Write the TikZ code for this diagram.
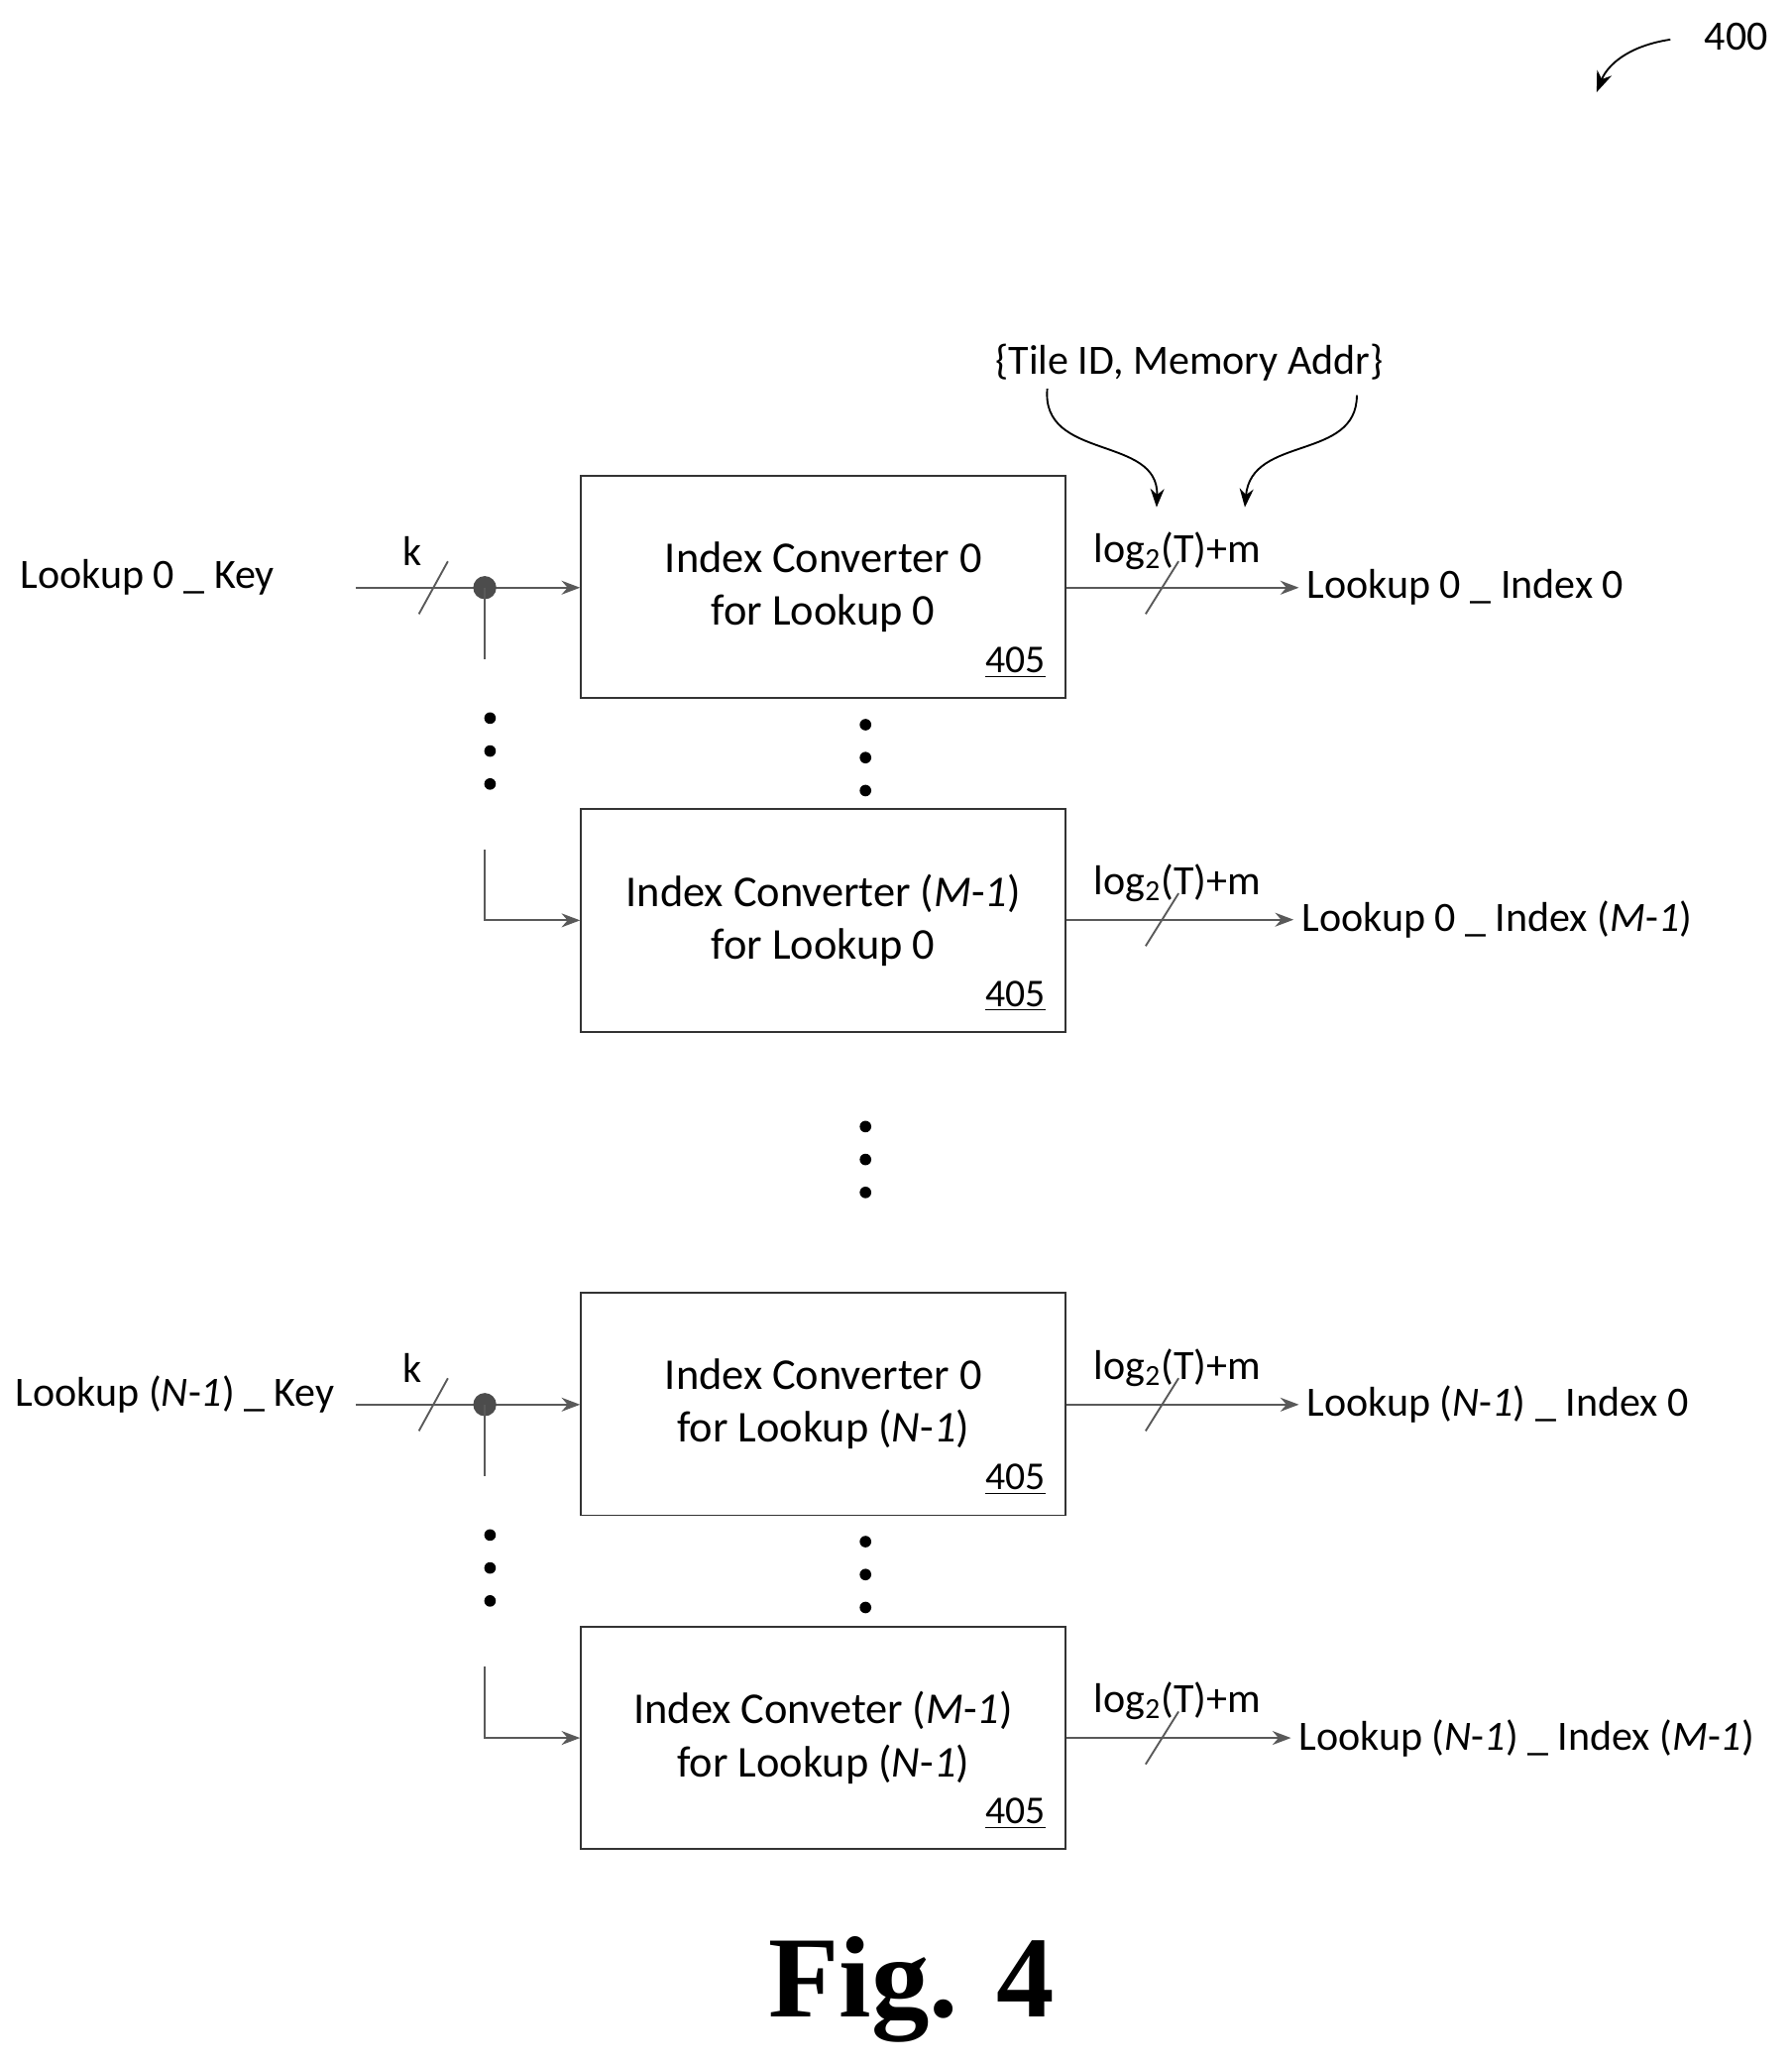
\documentclass[tikz,border=0pt]{standalone}
\usepackage{fontspec}
\setmainfont{Carlito}
\usepackage{tikz}
\usetikzlibrary{arrows.meta,calc}

\tikzset{
 conv/.style={draw=black!80,thick,minimum width=7.36cm,minimum height=3.38cm,align=center,font=\fontsize{19}{23}\selectfont},
 wire/.style={gray!70!black,thick},
 lbl/.style={font=\fontsize{18}{21}\selectfont},
 tag/.style={font=\fontsize{17}{19}\selectfont},
 bus/.style={wire,-{Stealth[length=8pt]}}
}

\begin{document}
\begin{tikzpicture}[x=0.02cm,y=-0.02cm]
 \useasboundingbox (0,0) rectangle (1360,1568);

 % converters
 \node[conv] (c00) at (625,445.5) {Index Converter 0\\for Lookup 0};
 \node[conv] (c0m) at (625,698.5) {Index Converter (\textit{M}-\textit{1})\\for Lookup 0};
 \node[conv] (cn0) at (625,1065.5) {Index Converter 0\\for Lookup (\textit{N}-\textit{1})};
 \node[conv] (cnm) at (625,1319) {Index Conveter (\textit{M}-\textit{1})\\for Lookup (\textit{N}-\textit{1})};
 \foreach \c in {c00,c0m,cn0,cnm}
  \node[tag,anchor=south east] at ($(\c.south east)+(-10,-10)$) {\underline{405}};

 % keys
 \node[lbl] (k0) at (112,438) {Lookup 0 \_ Key};
 \node[lbl] (kn) at (133,1058) {Lookup (\textit{N}-\textit{1}) \_ Key};
 \coordinate (k0s) at (270,446);
 \coordinate (kns) at (270,1066);
 \coordinate (d0) at (368,446);
 \coordinate (dn) at (368,1066);
 \draw[wire] (k0s) -- (d0);
 \draw[bus] (d0) -- (d0 -| c00.west);
 \draw[wire] (kns) -- (dn);
 \draw[bus] (dn) -- (dn -| cn0.west);
 \fill[black!70] (d0) circle (5pt);
 \fill[black!70] (dn) circle (5pt);
 \draw[wire] (318,466) -- (340,426);
 \draw[wire] (318,1086) -- (340,1046);
 \node[lbl] (kl0) at (313,418) {k};
 \node[lbl] (kln) at (313,1038) {k};

 % branches
 \draw[wire] (d0) -- (368,500);
 \draw[bus] (368,645) |- (c0m.west);
 \draw[wire] (dn) -- (368,1120);
 \draw[bus] (368,1265) |- (cnm.west);
 \foreach \y in {545,570,595,1165,1190,1215}
  \fill (372,\y) circle (2.5pt);
 \foreach \y in {550,575,600,855,880,905,1170,1195,1220}
  \fill (657,\y) circle (2.5pt);

 % outputs
 \node[lbl,anchor=west] (o00) at (986,446) {Lookup 0 \_ Index 0};
 \node[lbl,anchor=west] (o0m) at (982,698) {Lookup 0 \_ Index (\textit{M}-\textit{1})};
 \node[lbl,anchor=west] (on0) at (986,1066) {Lookup (\textit{N}-\textit{1}) \_ Index 0};
 \node[lbl,anchor=west] (onm) at (980,1319) {Lookup (\textit{N}-\textit{1}) \_ Index (\textit{M}-\textit{1})};
 \foreach \c/\o in {c00/o00,c0m/o0m,cn0/on0,cnm/onm}{
  \draw[bus] (\c.east |- \o) -- (\o.west);
  \draw[wire] ($(\c.east |- \o)+(60,20)$) -- ($(\c.east |- \o)+(85,-20)$);
  \node[lbl] at ($(\c.east |- \o)+(84,-28)$) {log\textsubscript{2}(T)+m};
 }

 % tile id
 \node[lbl] (tid) at (903,275) {\{Tile ID, Memory Addr\}};
 \coordinate (t1) at (878,385);
 \coordinate (t2) at (945,385);
 \draw[-{Stealth[length=8pt]},thick] (795,295) .. controls (790,350) and (880,330) .. (t1);
 \draw[-{Stealth[length=8pt]},thick] (1030,300) .. controls (1030,350) and (950,330) .. (t2);

 % figure label
 \node[lbl] (ref) at (1318,28) {400};
 \draw[-{Stealth[length=9pt]},thick] (1268,30) .. controls (1235,35) and (1220,50) .. (1212,70);
 \node[font=\fontspec{Liberation Serif}\bfseries\fontsize{50}{50}\selectfont] (fig) at (692,1510) {Fig. 4};
\end{tikzpicture}
\end{document}
